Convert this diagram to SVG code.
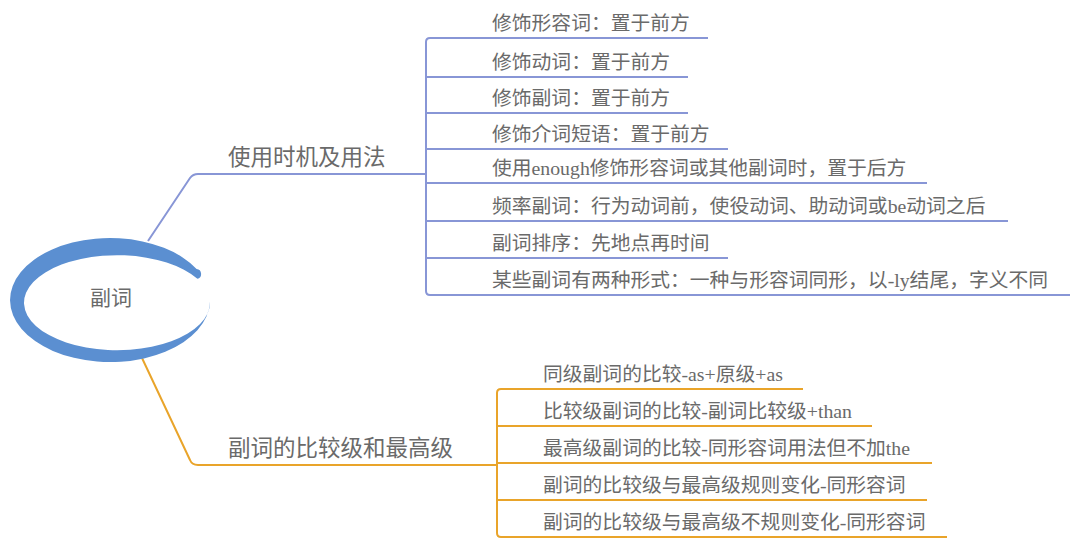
<svg xmlns="http://www.w3.org/2000/svg" width="1080" height="554" viewBox="0 0 1080 554">
<style>
text{font-family:"Liberation Serif","Noto Sans CJK SC",serif;fill:#6a6a6a}
.t1{font-size:22.5px}
.t2{font-size:19.8px}
.root{font-size:21px}
.b{stroke:#8896d6;stroke-width:2;fill:none}
.o{stroke:#e9a42a;stroke-width:2;fill:none}
</style>
<rect width="1080" height="554" fill="#ffffff"/>
<g id="connectors">
<path class="b" d="M148 241 L190 178 Q193 174 198 174 L426 174"/>
<path class="b" d="M430 38 Q426 38 426 42 L426 291 Q426 295 430 295"/>
<path class="o" d="M142 358 L190 460 Q192 465 198 465 L497 465"/>
<path class="o" d="M501 389 Q497 389 497 393 L497 533 Q497 537 501 537"/>
</g>
<g id="root">
<path d="M210 302 A100 62 0 1 1 196.6 269 A5 5 0 0 1 197.4 278.8 A93 47.5 0 1 0 210 302 Z" fill="#5b8fd1"/>
<text class="root" x="111" y="305" text-anchor="middle">副词</text>
</g>
<g id="n-usage">
<text class="t1" x="228" y="165">使用时机及用法</text>
</g>
<g id="n-u1"><path class="b" d="M430 38 H708"/><text class="t2" x="492" y="30">修饰形容词：置于前方</text></g>
<g id="n-u2"><path class="b" d="M426 77 H688"/><text class="t2" x="492" y="69">修饰动词：置于前方</text></g>
<g id="n-u3"><path class="b" d="M426 113 H688"/><text class="t2" x="492" y="105">修饰副词：置于前方</text></g>
<g id="n-u4"><path class="b" d="M426 149 H728"/><text class="t2" x="492" y="141">修饰介词短语：置于前方</text></g>
<g id="n-u5"><path class="b" d="M426 183 H927"/><text class="t2" x="492" y="175">使用enough修饰形容词或其他副词时，置于后方</text></g>
<g id="n-u6"><path class="b" d="M426 221 H1008"/><text class="t2" x="492" y="213">频率副词：行为动词前，使役动词、助动词或be动词之后</text></g>
<g id="n-u7"><path class="b" d="M426 258 H728"/><text class="t2" x="492" y="250">副词排序：先地点再时间</text></g>
<g id="n-u8"><path class="b" d="M430 295 H1070"/><text class="t2" x="492" y="287">某些副词有两种形式：一种与形容词同形，以-ly结尾，字义不同</text></g>
<g id="n-compare">
<text class="t1" x="228" y="456">副词的比较级和最高级</text>
</g>
<g id="n-c1"><path class="o" d="M501 389 H803"/><text class="t2" x="543" y="381">同级副词的比较-as+原级+as</text></g>
<g id="n-c2"><path class="o" d="M497 426 H872"/><text class="t2" x="543" y="418">比较级副词的比较-副词比较级+than</text></g>
<g id="n-c3"><path class="o" d="M497 463 H932"/><text class="t2" x="543" y="455">最高级副词的比较-同形容词用法但不加the</text></g>
<g id="n-c4"><path class="o" d="M497 500 H927"/><text class="t2" x="543" y="492">副词的比较级与最高级规则变化-同形容词</text></g>
<g id="n-c5"><path class="o" d="M501 537 H947"/><text class="t2" x="543" y="529">副词的比较级与最高级不规则变化-同形容词</text></g>
</svg>
